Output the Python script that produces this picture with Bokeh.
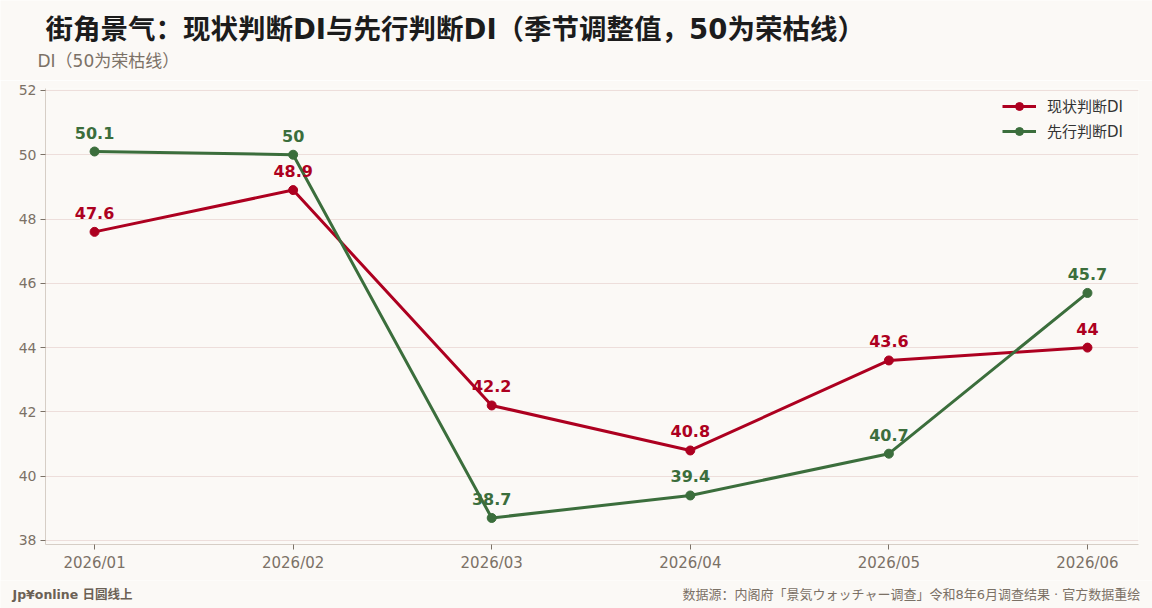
from bokeh.plotting import figure
from bokeh.layouts import column
from bokeh.models import ColumnDataSource, LabelSet, Label, FixedTicker, Range1d, Legend, LegendItem
from bokeh.core.properties import value
from bokeh.embed import file_html
from bokeh.resources import INLINE

months = ["2026/01", "2026/02", "2026/03", "2026/04", "2026/05", "2026/06"]
current_di = [47.6, 48.9, 42.2, 40.8, 43.6, 44.0]
outlook_di = [50.1, 50.0, 38.7, 39.4, 40.7, 45.7]
y_ticks = [38, 40, 42, 44, 46, 48, 50, 52]

FONT = "DejaVu Sans, Noto Sans CJK SC"
RED = "#ad0020"
GREEN = "#3b6e3c"
BG = "#fbf9f6"
TICK = "#7b7166"
W = 1152


def blank(height):
    f = figure(width=W, height=height, output_backend="svg", toolbar_location=None,
               x_range=Range1d(0, W), y_range=Range1d(height, 0),
               min_border=0, background_fill_color=BG, border_fill_color=BG,
               frame_align=False)
    f.axis.visible = False
    f.grid.visible = False
    f.outline_line_color = None
    return f


# header
head = blank(80)
head.add_layout(Label(x=45, y=28, text="街角景气：现状判断DI与先行判断DI（季节调整值，50为荣枯线）",
                      text_font=FONT, text_font_size="27.5px", text_font_style="bold",
                      text_color="#1c1c1c", text_baseline="middle"))
head.add_layout(Label(x=37, y=60, text="DI（50为荣枯线）", text_font=FONT, text_font_size="17px",
                      text_color=TICK, text_baseline="middle"))

# main chart
xs = list(range(len(months)))
src_cur = ColumnDataSource(dict(x=xs, y=current_di, t=[f"{v:g}" for v in current_di]))
src_out = ColumnDataSource(dict(x=xs, y=outlook_di, t=[f"{v:g}" for v in outlook_di]))

p = figure(width=W, height=500, output_backend="svg", toolbar_location=None,
           x_range=Range1d(-0.247, 5.257), y_range=Range1d(37.875, 52.06),
           min_border_left=45, min_border_right=14, min_border_top=8, min_border_bottom=36,
           background_fill_color=BG, border_fill_color=BG, frame_align=False)
p.outline_line_color = None

p.xaxis.ticker = FixedTicker(ticks=xs)
p.xaxis.major_label_overrides = {i: m for i, m in enumerate(months)}
p.yaxis.ticker = FixedTicker(ticks=y_ticks)
for ax in (p.xaxis, p.yaxis):
    ax.axis_line_color = "#d6cec6"
    ax.major_tick_line_color = TICK
    ax.major_tick_out = 5
    ax.major_tick_in = 0
    ax.minor_tick_line_color = None
    ax.major_label_text_color = TICK
    ax.major_label_text_font = FONT
p.xaxis.major_label_text_font_size = "15px"
p.yaxis.major_label_text_font_size = "14px"
p.xaxis.major_label_standoff = 4
p.yaxis.major_label_standoff = 4
p.xgrid.grid_line_color = None
p.ygrid.grid_line_color = "#eddedb"
p.ygrid.grid_line_width = 1

r1 = p.line("x", "y", source=src_cur, line_color=RED, line_width=3)
c1 = p.scatter("x", "y", source=src_cur, size=9, fill_color=RED, line_color=RED)
r2 = p.line("x", "y", source=src_out, line_color=GREEN, line_width=3)
c2 = p.scatter("x", "y", source=src_out, size=9, fill_color=GREEN, line_color=GREEN)

for src, col in ((src_cur, RED), (src_out, GREEN)):
    p.add_layout(LabelSet(x="x", y="y", text="t", source=src, y_offset=13,
                          text_align="center", text_baseline="alphabetic",
                          text_color=col, text_font=value(FONT), text_font_size=value("16px"),
                          text_font_style="bold"))

legend = Legend(items=[LegendItem(label="现状判断DI", renderers=[r1, c1]),
                       LegendItem(label="先行判断DI", renderers=[r2, c2])],
                location=(957, 403), background_fill_alpha=0, border_line_color=None,
                label_text_font=FONT, label_text_font_size="15px", label_text_color="#333333",
                glyph_width=34, label_standoff=11, spacing=4, margin=0, padding=6,
                label_height=21)
p.add_layout(legend)

# footer
foot = blank(28)
foot.add_layout(Label(x=12, y=14, text="Jp¥online 日圆线上", text_font=FONT, text_font_size="12.5px",
                      text_font_style="bold", text_color="#6b6155", text_baseline="middle"))
foot.add_layout(Label(x=1140, y=14,
                      text="数据源：内阁府「景気ウォッチャー调查」令和8年6月调查结果 · 官方数据重绘",
                      text_font=FONT, text_font_size="13px", text_color=TICK,
                      text_baseline="middle", text_align="right"))

layout = column(head, p, foot, spacing=0)
open("out.html", "w").write(file_html(layout, INLINE))
